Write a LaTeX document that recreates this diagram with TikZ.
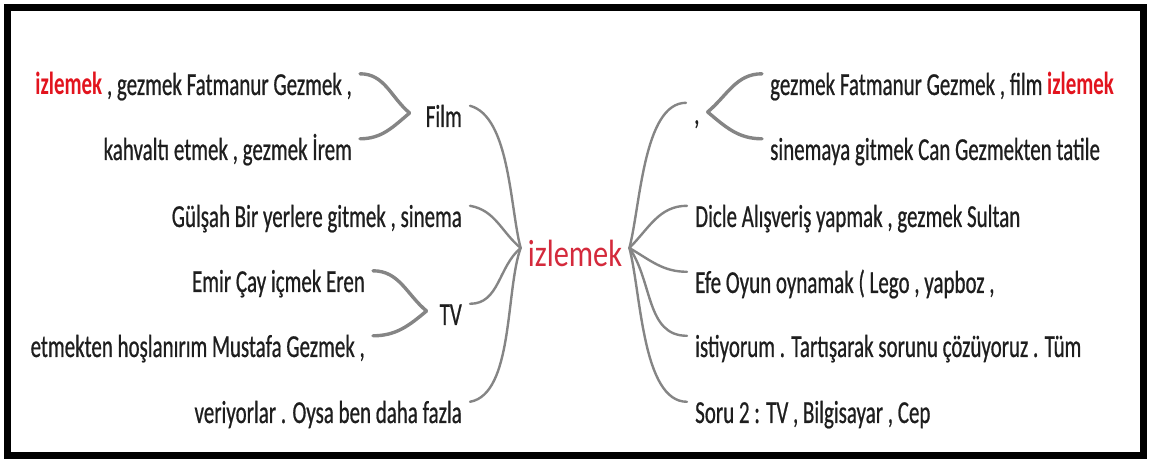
\documentclass[tikz,border=0pt]{standalone}
\usepackage{fontspec}
\setmainfont{Carlito}[FakeStretch=0.655, UprightFeatures={FakeBold=0.6}]
\newfontfamily\hubfont{Carlito}[FakeStretch=0.8]
\definecolor{inkgray}{HTML}{1E1E1E}
\definecolor{twiggray}{HTML}{858585}
\definecolor{hotred}{HTML}{E2141E}
\definecolor{hubred}{HTML}{D42A3C}
\begin{document}
\begin{tikzpicture}[x=1pt,y=1pt,
  leaf/.style={inner xsep=8pt, inner ysep=2pt, text height=19pt, text depth=7pt, text=inkgray, font=\fontsize{32}{36}\selectfont},
  hub/.style={inner xsep=7pt, inner ysep=0pt, text height=38pt, text depth=0pt, text=hubred, font=\hubfont\fontsize{38}{40}\selectfont},
  twig/.style={draw=twiggray, line width=3.4pt, line cap=round},
  limb/.style={draw=twiggray, line width=2.4pt, line cap=round}]
\useasboundingbox (0,0) rectangle (1150,460);
\draw [line width=7pt] (7.5,4.5) rectangle (1143.5,452.5);
% centre
\node [hub, anchor=base] (hub) at (575,193) {izlemek};
% left side
\node [leaf, anchor=base east] (filmA) at (360,365) {{\color{hotred}\bfseries izlemek} , gezmek Fatmanur Gezmek ,};
\node [leaf, anchor=base east] (filmB) at (360,300) {kahvaltı etmek , gezmek İrem};
\node [leaf, anchor=base east] (film) at (470,333) {Film};
\node [leaf, anchor=base east] (gulsah) at (470,233) {Gülşah Bir yerlere gitmek , sinema};
\node [leaf, anchor=base east] (tvA) at (373,168) {Emir Çay içmek Eren};
\node [leaf, anchor=base east] (tvB) at (373,103) {etmekten hoşlanırım Mustafa Gezmek ,};
\node [leaf, anchor=base east] (tv) at (470,135) {TV};
\node [leaf, anchor=base east] (veriyor) at (470,37) {veriyorlar . Oysa ben daha fazla};
% right side
\node [leaf, anchor=base west] (virgul) at (686,336) {,};
\node [leaf, anchor=base west] (virgulA) at (762,365) {gezmek Fatmanur Gezmek , film {\color{hotred}\bfseries izlemek}};
\node [leaf, anchor=base west] (virgulB) at (762,300) {sinemaya gitmek Can Gezmekten tatile};
\node [leaf, anchor=base west] (dicle) at (687,233) {Dicle Alışveriş yapmak , gezmek Sultan};
\node [leaf, anchor=base west] (efe) at (687,167) {Efe Oyun oynamak ( Lego , yapboz ,};
\node [leaf, anchor=base west] (isti) at (687,103) {istiyorum . Tartışarak sorunu çözüyoruz . Tüm};
\node [leaf, anchor=base west] (soru) at (687,37) {Soru 2 : TV , Bilgisayar , Cep};
% twigs
\draw [twig] (filmA.north east) to[out=0,in=140] ([xshift=-8pt,yshift=8pt]film.west);
\draw [twig] (filmB.north east) to[out=0,in=220] ([xshift=-8pt,yshift=8pt]film.west);
\draw [twig] (tvA.north east) to[out=0,in=140] ([xshift=-5pt,yshift=8pt]tv.west);
\draw [twig] (tvB.north east) to[out=0,in=220] ([xshift=-5pt,yshift=8pt]tv.west);
\draw [twig] ([yshift=6pt]virgul.east) to[out=40,in=180] (virgulA.north west);
\draw [twig] ([yshift=6pt]virgul.east) to[out=-40,in=180] (virgulB.north west);
% limbs
\draw [limb] (film.north east) to[out=-15,in=105,looseness=0.7] (hub.west);
\draw [limb] (gulsah.north east) to[out=-10,in=140] (hub.west);
\draw [limb] (tv.north east) to[out=0,in=220] (hub.west);
\draw [limb] (veriyor.north east) to[out=10,in=250,looseness=0.7] (hub.west);
\draw [limb] (hub.east) to[out=75,in=180,looseness=0.7] (virgul.north west);
\draw [limb] (hub.east) to[out=45,in=180] (dicle.north west);
\draw [limb] (hub.east) to[out=-30,in=180] (efe.north west);
\draw [limb] (hub.east) to[out=-55,in=180] (isti.north west);
\draw [limb] (hub.east) to[out=-75,in=180,looseness=0.7] (soru.north west);
\end{tikzpicture}
\end{document}
